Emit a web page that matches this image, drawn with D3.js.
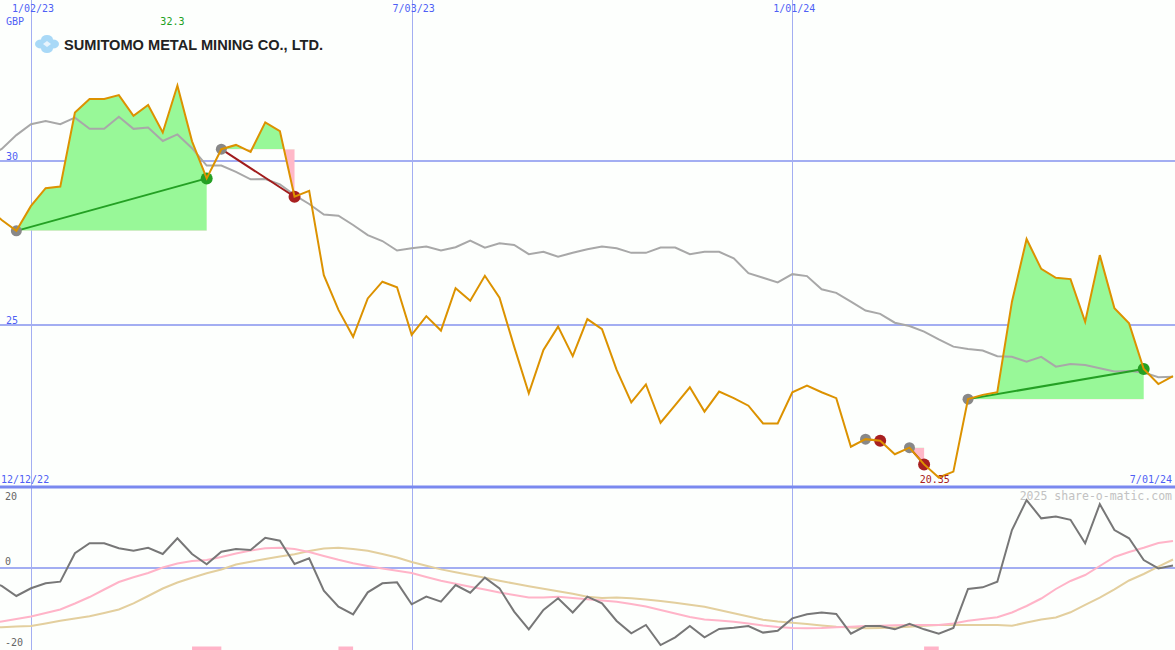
<!DOCTYPE html>
<html><head><meta charset="utf-8">
<script src="https://cdn.jsdelivr.net/npm/d3@7"></script>
<style>html,body{margin:0;padding:0;background:#fdfffd;} svg{display:block}</style>
</head><body><svg id="c" width="1175" height="650"></svg>
<script>
// ---------- data ----------
const startWeek = "2022-12-12";   // first weekly close
const price = [28.6,28.2,27.87,28.63,29.17,29.22,31.48,31.89,31.89,32.01,31.38,31.71,30.87,32.3,30.6,29.47,
  30.36,30.49,30.28,31.18,30.91,28.91,29.09,26.52,25.46,24.64,25.81,26.32,26.15,24.70,25.27,24.83,26.12,25.74,
  26.50,25.83,24.34,22.92,24.24,24.95,24.05,25.18,24.87,23.63,22.64,23.19,22.02,22.56,23.10,22.36,22.97,22.77,
  22.54,22.00,22.00,22.95,23.15,22.95,22.77,21.29,21.52,21.47,21.06,21.26,20.75,20.35,20.53,22.74,22.87,22.95,
  25.71,27.62,26.71,26.44,26.40,25.10,27.13,25.51,25.05,23.66,23.20,23.44];
const average = [30.1,30.37,30.79,31.12,31.22,31.12,31.32,30.98,30.98,31.35,30.98,31.02,30.61,30.81,30.39,29.86,
  29.86,29.67,29.44,29.45,29.29,28.96,28.69,28.37,28.33,28.05,27.74,27.56,27.27,27.34,27.39,27.27,27.37,27.57,
  27.36,27.49,27.44,27.16,27.23,27.08,27.20,27.31,27.39,27.34,27.20,27.20,27.36,27.36,27.16,27.23,27.23,27.03,
  26.58,26.44,26.30,26.55,26.49,26.09,25.98,25.71,25.44,25.34,25.07,24.97,24.80,24.56,24.34,24.27,24.22,24.05,
  24.03,23.88,24.03,23.73,23.81,23.78,23.68,23.58,23.60,23.55,23.41,23.42];
const momentum = [-3.5,-4.9,-7.67,-5.56,-4.2,-3.75,4.03,6.77,6.77,5.40,4.74,5.56,3.84,8.14,3.84,1.01,
  4.47,5.21,4.93,8.30,7.48,1.10,2.66,-6.21,-10.6,-12.7,-6.67,-4.2,-3.93,-9.95,-7.85,-9.22,-4.66,-6.76,
  -2.64,-5.57,-11.96,-16.8,-11.5,-8.31,-12.2,-7.85,-9.68,-14.5,-17.9,-15.6,-21.1,-19.0,-15.9,-19.0,-16.7,-16.4,
  -15.9,-17.7,-17.2,-13.8,-12.7,-12.2,-12.6,-18.0,-15.9,-15.9,-16.8,-15.3,-16.8,-18.0,-16.4,-5.75,-5.29,-3.75,
  10.4,18.6,13.6,14.1,13.2,6.77,17.5,10.4,8.14,2.19,-0.1,0.7];
const signalFast = [-15.3,-14.66,-13.97,-13.29,-12.33,-11.37,-9.73,-7.95,-5.89,-3.84,-2.55,-1.37,0.14,1.23,1.92,2.19,
  3.01,3.97,4.79,5.40,5.56,5.21,4.38,3.29,2.25,1.32,0.55,-0.14,-0.74,-1.37,-2.47,-3.48,-4.30,-5.12,
  -5.89,-6.71,-7.40,-8.08,-8.08,-7.86,-8.22,-8.58,-8.90,-9.23,-9.86,-10.55,-11.5,-12.47,-13.42,-14.11,-14.38,-14.71,
  -15.2,-15.75,-16.16,-16.44,-16.52,-16.44,-16.25,-16.08,-15.89,-15.81,-15.67,-15.62,-15.62,-15.62,-15.2,-14.44,-13.97,-13.48,
  -12.19,-10.41,-8.36,-5.75,-3.56,-1.92,0.55,3.01,4.38,5.53,6.85,7.40];
const signalSlow = [-16.44,-16.22,-16.05,-15.89,-15.2,-14.44,-13.84,-13.21,-12.33,-11.37,-9.67,-7.67,-5.62,-3.97,-2.66,-1.45,
  -0.41,0.96,1.73,2.47,3.12,3.75,4.66,5.32,5.53,5.21,4.71,3.84,2.88,1.64,0.60,-0.38,-1.15,-1.92,
  -2.68,-3.51,-4.25,-5.01,-5.70,-6.36,-7.07,-7.89,-8.22,-8.05,-8.27,-8.66,-9.04,-9.53,-10.05,-10.6,-11.5,-12.38,
  -13.29,-14.19,-14.66,-14.99,-15.34,-15.73,-16.11,-16.33,-16.52,-16.44,-16.30,-16.11,-15.81,-15.62,-15.62,-15.62,-15.62,-15.62,
  -15.84,-14.93,-14.11,-13.56,-12.14,-10.08,-8.14,-5.84,-3.42,-1.64,0.38,2.33];
const tradeEntry = ["2022-12-26","2023-04-03","2024-02-05","2024-02-26","2024-03-25"];
const tradeExit  = ["2023-03-27","2023-05-08","2024-02-12","2024-03-04","2024-06-17"];
const alertStart = ["2023-03-20","2023-05-29","2024-03-04"];
const alertEnd   = ["2023-04-03","2023-06-05","2024-03-11"];
const gridDates  = ["2023-01-02","2023-07-03","2024-01-01"];
const gridLabels = ["1/02/23","7/03/23","1/01/24"];
const priceTicks = [30,25];
const oscTicks = [20,0,-20];
const firstLabel = "12/12/22", lastLabel = "7/01/24", currency = "GBP";
const company = "SUMITOMO METAL MINING CO., LTD.";
const credit = "2025 share-o-matic.com";

// ---------- setup ----------
const parse = d3.timeParse("%Y-%m-%d");
const dates = d3.range(price.length).map(i => d3.timeDay.offset(parse(startWeek), 7*i));
const idx = s => dates.findIndex(d => +d === +parse(s));
const W = 1175, H = 650, SEP = 487;
const x = d3.scaleTime().domain([parse("2023-01-02"), parse("2024-07-01")]).range([31, 1173]);
const yP = d3.scaleLinear().domain([25, 30]).range([325, 161]);
const yO = d3.scaleLinear().domain([-20, 20]).range([641, 495]);
const svg = d3.select("#c");
const mono = "'DejaVu Sans Mono', monospace";
const blueTxt = "#4f5ff5", grid = "#a3aef2";

svg.append("rect").attr("width", W).attr("height", H).attr("fill", "#fdfffd");
const defs = svg.append("defs");
defs.append("clipPath").attr("id", "topClip").append("rect").attr("x", 0).attr("y", 0).attr("width", W).attr("height", SEP - 1);
defs.append("clipPath").attr("id", "botClip").append("rect").attr("x", 0).attr("y", SEP + 1).attr("width", W).attr("height", H - SEP);

// grid
svg.selectAll(".hg").data(priceTicks).join("line")
  .attr("x1", 0).attr("x2", W).attr("y1", d => yP(d)).attr("y2", d => yP(d))
  .attr("stroke", grid).attr("stroke-width", 2);
svg.append("line").attr("x1", 0).attr("x2", W).attr("y1", yO(0)).attr("y2", yO(0))
  .attr("stroke", grid).attr("stroke-width", 2);
svg.selectAll(".vg").data(gridDates).join("line")
  .attr("x1", d => Math.round(x(parse(d))) + 0.5).attr("x2", d => Math.round(x(parse(d))) + 0.5)
  .attr("y1", 0).attr("y2", H).attr("stroke", grid).attr("stroke-width", 1);

// ---------- top panel ----------
const topG = svg.append("g").attr("clip-path", "url(#topClip)");
tradeEntry.forEach((e, t) => {
  const a = idx(e), b = idx(tradeExit[t]);
  const ids = d3.range(a, b + 1);
  const base = yP(price[a]);
  const area = d3.area().x(i => x(dates[i])).y0(base).y1(i => yP(price[i]));
  defs.append("clipPath").attr("id", "up" + t).append("rect").attr("x", 0).attr("y", 0).attr("width", W).attr("height", base);
  defs.append("clipPath").attr("id", "dn" + t).append("rect").attr("x", 0).attr("y", base).attr("width", W).attr("height", SEP - base);
  topG.append("path").datum(ids).attr("d", area).attr("fill", "#98f898").attr("clip-path", `url(#up${t})`);
  topG.append("path").datum(ids).attr("d", area).attr("fill", "#ffb8c8").attr("clip-path", `url(#dn${t})`);
});
const line = (arr, ys) => d3.line().x((d, i) => x(dates[i])).y(d => ys(d))(arr);
topG.append("path").attr("d", line(average, yP)).attr("fill", "none").attr("stroke", "#a8a8a8").attr("stroke-width", 2);
tradeEntry.forEach((e, t) => {
  const a = idx(e), b = idx(tradeExit[t]);
  const win = price[b] > price[a];
  topG.append("line").attr("x1", x(dates[a])).attr("y1", yP(price[a])).attr("x2", x(dates[b])).attr("y2", yP(price[b]))
    .attr("stroke", win ? "#24a024" : "#a01c1c").attr("stroke-width", 2);
  topG.append("circle").attr("cx", x(dates[a])).attr("cy", yP(price[a])).attr("r", 5.5).attr("fill", "#888");
  topG.append("circle").attr("cx", x(dates[b])).attr("cy", yP(price[b])).attr("r", 6).attr("fill", win ? "#24a024" : "#a82020");
});
topG.append("path").attr("d", line(price, yP)).attr("fill", "none").attr("stroke", "#dc9200").attr("stroke-width", 2);

// labels top
svg.selectAll(".dl").data(gridDates).join("text")
  .attr("x", d => x(parse(d)) + 2).attr("y", 12).attr("text-anchor", "middle")
  .attr("font-family", mono).attr("font-size", 10).attr("fill", blueTxt).text((d, i) => gridLabels[i]);
svg.append("text").attr("x", 6).attr("y", 25).attr("font-family", mono).attr("font-size", 10).attr("fill", blueTxt).text(currency);
const iMax = d3.maxIndex(price), iMin = d3.minIndex(price);
svg.append("text").attr("x", x(dates[iMax]) - 5).attr("y", 25).attr("text-anchor", "middle")
  .attr("font-family", mono).attr("font-size", 10).attr("fill", "#20a020").text(d3.format(".1f")(price[iMax]));
svg.selectAll(".pt").data(priceTicks).join("text")
  .attr("x", 6).attr("y", d => yP(d) - 1.5).attr("font-family", mono).attr("font-size", 10).attr("fill", blueTxt).text(d => d);
svg.append("text").attr("x", x(dates[iMin]) - 4).attr("y", 483).attr("text-anchor", "middle")
  .attr("font-family", mono).attr("font-size", 10).attr("fill", "#a82020").text(d3.format(".2f")(price[iMin]));
svg.append("text").attr("x", 1).attr("y", 483).attr("font-family", mono).attr("font-size", 10).attr("fill", blueTxt).text(firstLabel);
svg.append("text").attr("x", 1172).attr("y", 483).attr("text-anchor", "end").attr("font-family", mono).attr("font-size", 10).attr("fill", blueTxt).text(lastLabel);

// logo
const logo = svg.append("g").attr("transform", "translate(47,44)");
[[-6,0],[6,0],[0,-4.5],[0,4.5]].forEach(([dx,dy]) => logo.append("ellipse").attr("cx", dx).attr("cy", dy).attr("rx", 6).attr("ry", 4.5).attr("fill", "#a9d9f7"));
logo.append("path").attr("d", "M0,-3 L4,0 L0,3 L-4,0 Z").attr("fill", "#e8f4fd");
svg.append("text").attr("x", 64).attr("y", 50).attr("font-family", "'Liberation Sans', Arial, sans-serif")
  .attr("font-weight", "bold").attr("font-size", 15).attr("textLength", 259).attr("lengthAdjust", "spacingAndGlyphs")
  .attr("fill", "#222").text(company);

// separator
svg.append("line").attr("x1", 0).attr("x2", W).attr("y1", SEP).attr("y2", SEP).attr("stroke", "#7a89ef").attr("stroke-width", 3);

// ---------- bottom panel ----------
const botG = svg.append("g").attr("clip-path", "url(#botClip)");
botG.append("path").attr("d", line(signalSlow, yO)).attr("fill", "none").attr("stroke", "#e3cf9e").attr("stroke-width", 2);
botG.append("path").attr("d", line(signalFast, yO)).attr("fill", "none").attr("stroke", "#ffb4c8").attr("stroke-width", 2);
botG.append("path").attr("d", line(momentum, yO)).attr("fill", "none").attr("stroke", "#777").attr("stroke-width", 2);
alertStart.forEach((s, k) => {
  botG.append("rect").attr("x", x(parse(s))).attr("y", 646.5).attr("width", x(parse(alertEnd[k])) - x(parse(s))).attr("height", 6).attr("fill", "#ffb4c8");
});
svg.selectAll(".ot").data(oscTicks).join("text")
  .attr("x", 5).attr("y", d => yO(d) + (d === 0 ? -3 : 5)).attr("font-family", mono).attr("font-size", 10).attr("fill", "#666").text(d => d);
svg.append("text").attr("x", 1172).attr("y", 500).attr("text-anchor", "end").attr("font-family", mono).attr("font-size", 11.5)
  .attr("fill", "#c2c2c2").text(credit);
</script>
</body></html>
